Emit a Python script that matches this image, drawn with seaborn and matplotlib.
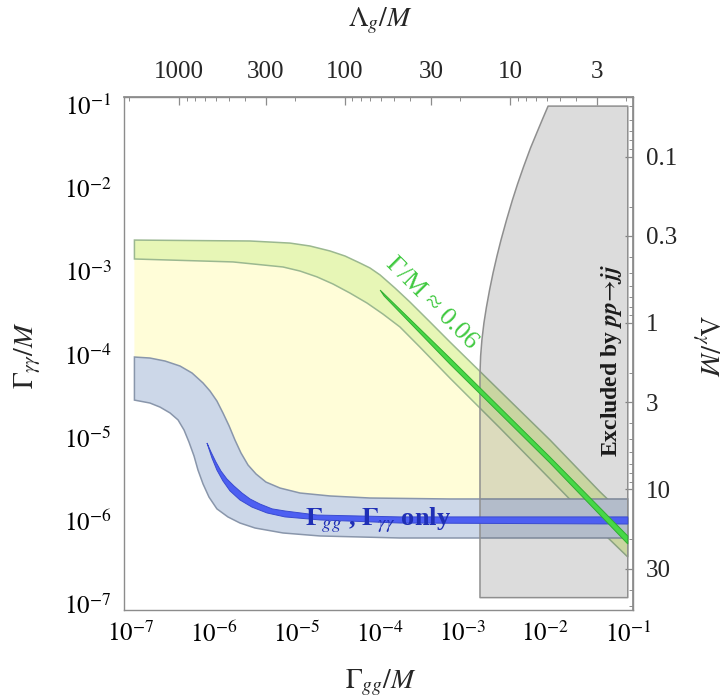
import numpy as np
import matplotlib
matplotlib.use("Agg")
import matplotlib.pyplot as plt
import seaborn as sns
from matplotlib.ticker import LogLocator, NullFormatter

# ---------------- axis ticks ----------------
x_ticks = [1e-7, 1e-6, 1e-5, 1e-4, 1e-3, 1e-2, 1e-1]
x_labels = [r"$10^{-7}$", r"$10^{-6}$", r"$10^{-5}$", r"$10^{-4}$",
            r"$10^{-3}$", r"$10^{-2}$", r"$10^{-1}$"]
y_ticks = [1e-7, 1e-6, 1e-5, 1e-4, 1e-3, 1e-2, 1e-1]
y_labels = x_labels
lam_g_ticks = [1000, 300, 100, 30, 10, 3]
lam_g_labels = ["1000", "300", "100", "30", "10", "3"]
lam_a_ticks = [0.1, 0.3, 1, 3, 10, 30]
lam_a_labels = ["0.1", "0.3", "1", "3", "10", "30"]

# Gamma/M = c / (Lambda/M)^2
c_gg = 0.38
c_aa = 2.4e-4

# ---------------- Gamma/M = 0.06 band ----------------
g06_up_x = [1.1e-7, 2.74e-6, 8.32e-6, 1.45e-5, 2.53e-5, 3.85e-5, 5.83e-5, 7.69e-5,
            1.02e-4, 1.54e-4, 2.34e-4, 4.08e-4, 7.1e-4, 2.86e-3, 1.15e-2, 4.6e-2, 1e-1]
g06_up_y = [2.38e-3, 2.32e-3, 2.19e-3, 2.02e-3, 1.76e-3, 1.53e-3, 1.26e-3, 1.10e-3,
            9.06e-4, 6.32e-4, 4.28e-4, 2.47e-4, 1.42e-4, 3.65e-5, 9.42e-6, 2.25e-6, 1.07e-6]
g06_lo_x = [1.1e-7, 1.7e-6, 6.86e-6, 1.10e-5, 1.76e-5, 2.75e-5, 4.4e-5, 7.08e-5,
            1.1e-4, 1.77e-4, 3.09e-4, 7.1e-4, 2.86e-3, 1.15e-2, 4.6e-2, 1e-1]
g06_lo_y = [1.41e-3, 1.30e-3, 1.13e-3, 1.01e-3, 8.6e-4, 7.06e-4, 5.50e-4, 4.17e-4,
            3.08e-4, 2.15e-4, 1.23e-4, 5.23e-5, 1.31e-5, 3.20e-6, 7.8e-7, 3.69e-7]

# best-fit strip inside the 0.06 band
g06_core_up_x = [1.02e-4, 7.1e-4, 1.15e-2, 1e-1]
g06_core_up_y = [5.97e-4, 9.1e-5, 5.87e-6, 6.6e-7]
g06_core_lo_x = [1.14e-4, 7.1e-4, 1.15e-2, 1e-1]
g06_core_lo_y = [5.06e-4, 7.7e-5, 4.98e-6, 5.3e-7]

# ---------------- Gamma_gg, Gamma_aa only band ----------------
gg_up_x = [1.1e-7, 1.69e-7, 2.58e-7, 3.91e-7, 5.46e-7, 7.41e-7, 9.0e-7, 1.09e-6, 1.29e-6,
           1.53e-6, 1.80e-6, 2.13e-6, 2.59e-6, 3.24e-6, 4.26e-6, 6.31e-6, 1.10e-5, 2.53e-5,
           7.69e-5, 7.1e-4, 1e-1]
gg_up_y = [9.35e-5, 9.10e-5, 8.37e-5, 7.29e-5, 6.01e-5, 4.56e-5, 3.65e-5, 2.77e-5, 1.99e-5,
           1.39e-5, 9.42e-6, 6.57e-6, 4.71e-6, 3.67e-6, 2.94e-6, 2.49e-6, 2.17e-6, 2.0e-6,
           1.89e-6, 1.84e-6, 1.84e-6]
gg_lo_x = [1.1e-7, 1.69e-7, 2.24e-7, 2.96e-7, 3.70e-7, 4.37e-7, 5.01e-7, 5.77e-7, 6.44e-7,
           7.41e-7, 8.75e-7, 1.09e-6, 1.48e-6, 2.07e-6, 3.15e-6, 6.86e-6, 1.92e-5, 1.77e-4, 1e-1]
gg_lo_y = [2.84e-5, 2.62e-5, 2.34e-5, 1.99e-5, 1.64e-5, 1.24e-5, 8.91e-6, 6.04e-6, 4.10e-6,
           2.79e-6, 1.94e-6, 1.40e-6, 1.12e-6, 9.46e-7, 8.24e-7, 7.18e-7, 6.61e-7, 6.25e-7, 6.25e-7]

gg_core_up_x = [8.28e-7, 9.25e-7, 1.06e-6, 1.22e-6, 1.44e-6, 1.75e-6, 2.19e-6, 2.74e-6,
                3.61e-6, 5.05e-6, 7.24e-6, 1.76e-5, 1.77e-4, 1e-1]
gg_core_up_y = [8.66e-6, 6.75e-6, 5.12e-6, 3.99e-6, 3.20e-6, 2.64e-6, 2.17e-6, 1.84e-6,
                1.60e-6, 1.40e-6, 1.32e-6, 1.18e-6, 1.12e-6, 1.12e-6]
gg_core_lo_x = [8.51e-7, 9.51e-7, 1.09e-6, 1.29e-6, 1.57e-6, 2.07e-6, 2.89e-6, 4.39e-6,
                7.24e-6, 1.92e-5, 1.77e-4, 1e-1]
gg_core_lo_y = [7.96e-6, 5.71e-6, 4.10e-6, 3.03e-6, 2.30e-6, 1.79e-6, 1.47e-6, 1.25e-6,
                1.12e-6, 1.03e-6, 9.46e-7, 9.2e-7]

# point where the lower 0.06 edge meets the upper gg-only edge
cross_x, cross_y = 1.95e-2, 1.84e-6

# ---------------- dijet exclusion ----------------
jj_x = [1.64e-3, 1.64e-3, 1.67e-3, 1.73e-3, 1.83e-3, 1.96e-3, 2.14e-3, 2.36e-3, 2.63e-3,
        2.94e-3, 3.43e-3, 4.04e-3, 4.66e-3, 5.50e-3, 6.68e-3, 8.22e-3, 9.46e-3, 1.09e-2,
        1e-1, 1e-1]
jj_y = [1.2e-7, 6.0e-5, 9.62e-5, 1.5e-4, 2.40e-4, 3.7e-4, 5.97e-4, 9.6e-4, 1.53e-3,
        2.38e-3, 4.15e-3, 7.2e-3, 1.12e-2, 1.8e-2, 3.04e-2, 5.0e-2, 6.98e-2, 9.7e-2,
        9.7e-2, 1.2e-7]

# ---------------- style ----------------
sns.set_theme(style="white")
plt.rcParams["font.family"] = ["Liberation Serif", "DejaVu Serif"]
plt.rcParams["mathtext.fontset"] = "stix"
frame_col = "#8c8c8c"

fig = plt.figure(figsize=(7.2, 7.0), dpi=100)
ax = fig.add_axes([124 / 720, 1 - 610 / 700, (633 - 124) / 720, (610 - 97) / 700])
ax.set_xscale("log")
ax.set_yscale("log")
ax.set_xlim(8.23e-8, 0.1156)
ax.set_ylim(8.52e-8, 0.1248)


def band(ux, uy, lx, ly):
    return np.r_[ux, lx[::-1]], np.r_[uy, ly[::-1]]


# allowed region between the two bands
k = g06_lo_x.index(1.15e-2) + 1
m = gg_up_x.index(7.1e-4) + 1
py_x = np.r_[g06_lo_x[:k], cross_x, gg_up_x[:m][::-1]]
py_y = np.r_[g06_lo_y[:k], cross_y, gg_up_y[:m][::-1]]
ax.fill(py_x, py_y, facecolor="#fffdd8", edgecolor="none", zorder=1)

bx, by = band(g06_up_x, g06_up_y, g06_lo_x, g06_lo_y)
ax.fill(bx, by, facecolor="#e7f6b6", edgecolor="#9bb890", lw=1.1, zorder=2)

bx, by = band(gg_up_x, gg_up_y, gg_lo_x, gg_lo_y)
ax.fill(bx, by, facecolor="#ccd7e8", edgecolor="#8996ab", lw=1.1, zorder=2)

ax.fill(jj_x, jj_y, facecolor=(0.29, 0.29, 0.29, 0.19), edgecolor="#8f8f8f",
        lw=1.1, zorder=3, joinstyle="round")

bx, by = band(gg_core_up_x, gg_core_up_y, gg_core_lo_x, gg_core_lo_y)
ax.fill(bx, by, facecolor="#4d5ff2", edgecolor="#3a4bd0", lw=0.7, zorder=4)

bx, by = band(g06_core_up_x, g06_core_up_y, g06_core_lo_x, g06_core_lo_y)
ax.fill(bx, by, facecolor="#47d847", edgecolor="#31ad31", lw=0.7, zorder=4)

# annotations
ax.text(4.3e-4, 4.2e-4, "Γ/M ≈ 0.06", rotation=-45, rotation_mode="anchor",
        ha="center", va="center", color="#40c940", fontsize=19, zorder=5)
ax.text(9.6e-5, 1.03e-6, r"$\mathbf{\Gamma}_{gg}$ , $\mathbf{\Gamma}_{\gamma\gamma}$ only",
        ha="center", va="center", color="#1f2fb5", fontsize=19,
        fontweight="bold", zorder=5)
ax.text(0.0644, 8.6e-5, r"Excluded by $\mathbfit{pp}\!\rightarrow\!\mathbfit{jj}$",
        rotation=90, ha="center", va="center", color="#1a1a1a", fontsize=17,
        fontweight="bold", zorder=5)

# ---------------- axes ----------------
ax.set_xticks(x_ticks, labels=x_labels)
ax.set_yticks(y_ticks, labels=y_labels)
ax.xaxis.set_minor_locator(LogLocator(base=10, subs=np.arange(2, 10), numticks=100))
ax.yaxis.set_minor_locator(LogLocator(base=10, subs=np.arange(2, 10), numticks=100))
ax.xaxis.set_minor_formatter(NullFormatter())
ax.yaxis.set_minor_formatter(NullFormatter())
ax.tick_params(which="both", direction="in", top=False, right=False,
               color=frame_col, labelcolor="black", labelsize=18)
ax.tick_params(which="major", length=6, width=0.9)
ax.tick_params(which="minor", length=3, width=0.7)
ax.tick_params(axis="x", pad=8)
ax.tick_params(axis="y", pad=9)
for s in ax.spines.values():
    s.set_color(frame_col)
    s.set_linewidth(1.0)


def gg_to_lam(g):
    g = np.clip(np.asarray(g, dtype=float), 1e-300, None)
    return np.sqrt(c_gg / g)


def lam_to_gg(l):
    l = np.clip(np.asarray(l, dtype=float), 1e-300, None)
    return c_gg / l ** 2


def aa_to_lam(g):
    g = np.clip(np.asarray(g, dtype=float), 1e-300, None)
    return np.sqrt(c_aa / g)


def lam_to_aa(l):
    l = np.clip(np.asarray(l, dtype=float), 1e-300, None)
    return c_aa / l ** 2


top = ax.secondary_xaxis("top", functions=(gg_to_lam, lam_to_gg))
top.set_xticks(lam_g_ticks, labels=lam_g_labels)
top.xaxis.set_minor_locator(LogLocator(base=10, subs=np.arange(2, 10), numticks=100))
top.xaxis.set_minor_formatter(NullFormatter())
top.tick_params(which="both", direction="in", color=frame_col, labelsize=18, pad=10)
top.tick_params(which="major", length=6, width=0.9)
top.tick_params(which="minor", length=3, width=0.7)

right = ax.secondary_yaxis("right", functions=(aa_to_lam, lam_to_aa))
right.set_yticks(lam_a_ticks, labels=lam_a_labels)
right.yaxis.set_minor_locator(LogLocator(base=10, subs=np.arange(2, 10), numticks=100))
right.yaxis.set_minor_formatter(NullFormatter())
right.tick_params(which="both", direction="in", color=frame_col, labelsize=18, pad=9)
right.tick_params(which="major", length=6, width=0.9)
right.tick_params(which="minor", length=3, width=0.7)
for sec in (top, right):
    for s in sec.spines.values():
        s.set_color(frame_col)

fig.text(0.039, 0.493, r"$\Gamma_{\gamma\gamma}/M$", rotation=90, ha="center",
         va="center", fontsize=20)
fig.text(0.528, 0.024, r"$\Gamma_{gg}/M$", ha="center", va="center", fontsize=20)
fig.text(0.528, 0.970, r"$\Lambda_g/M$", ha="center", va="center", fontsize=20)
fig.text(0.979, 0.505, r"$\Lambda_\gamma/M$", rotation=-90, ha="center",
         va="center", fontsize=20)

fig.savefig("out.png", dpi=100, facecolor="white")
